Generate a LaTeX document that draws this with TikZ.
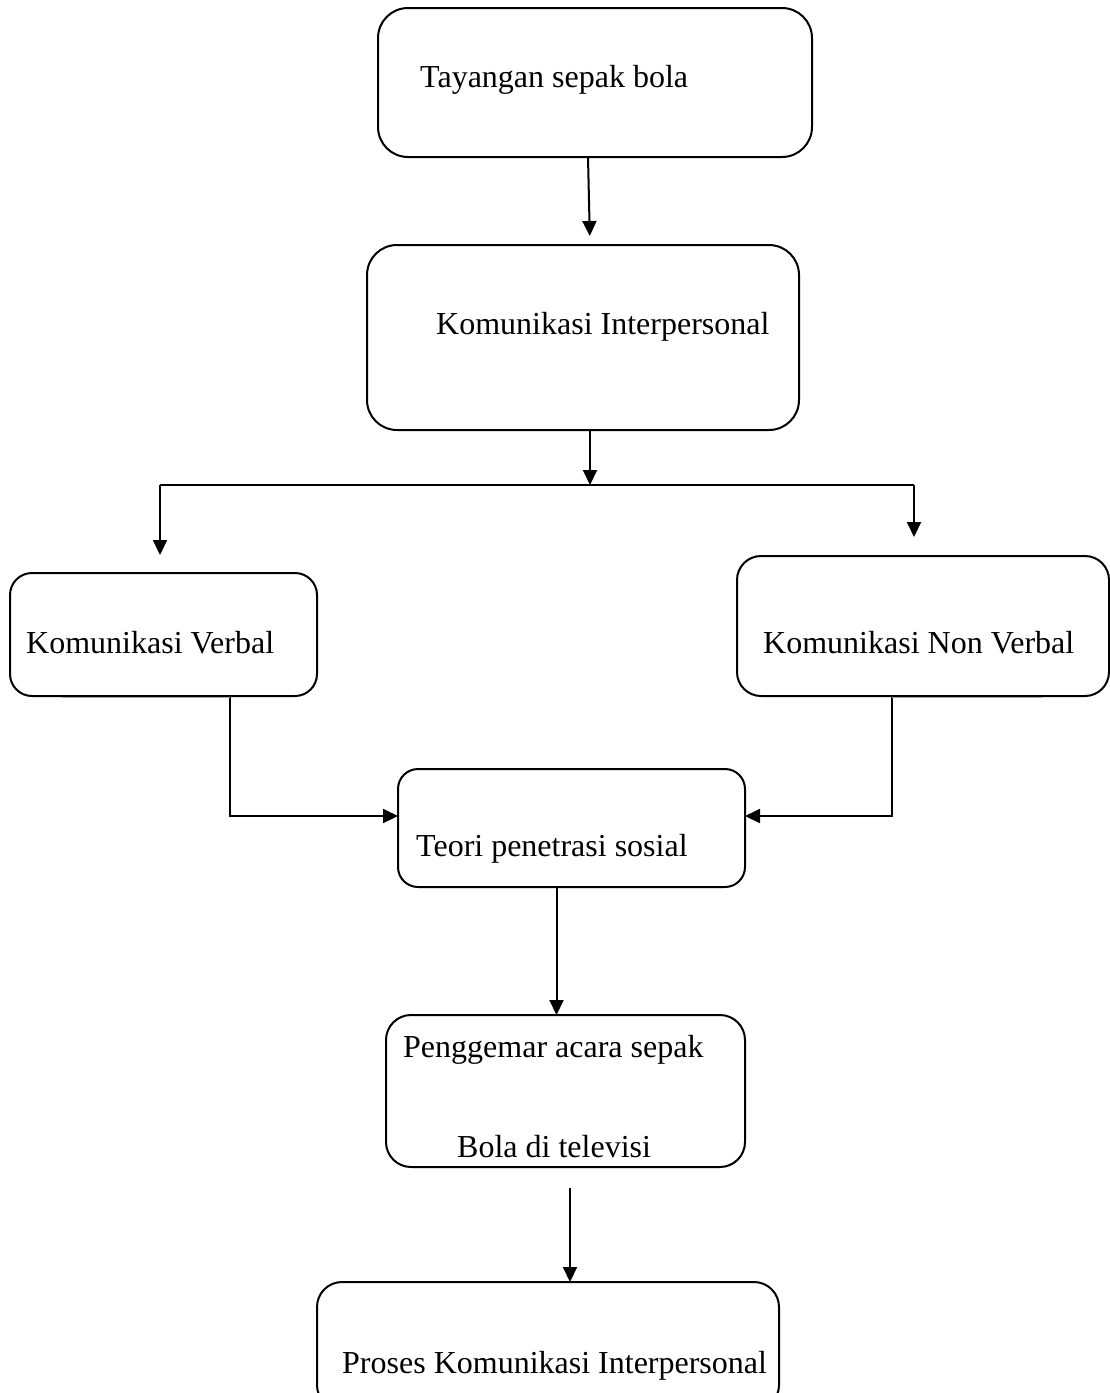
\documentclass[tikz,border=0pt]{standalone}
\usepackage{fontspec}
\setmainfont{Liberation Serif}
\usetikzlibrary{arrows.meta}
\begin{document}
\begin{tikzpicture}[x=1pt,y=-1pt,
  box/.style={draw, line width=2pt, inner sep=0pt, outer sep=0pt},
  txt/.style={anchor=base west, inner sep=0pt, font=\fontsize{32}{38}\selectfont},
  arr/.style={line width=2pt, -{Triangle[length=15pt,width=14pt]}},
  plain/.style={line width=2pt},
  faint/.style={line width=1.2pt, gray!70}]
\useasboundingbox (0,0) rectangle (1110,1393);
\clip (0,0) rectangle (1110,1393);
% boxes
\node[box, rounded corners=30pt, minimum width=434pt, minimum height=149pt] (tay) at (595,82.5) {};
\node[box, rounded corners=30pt, minimum width=432pt, minimum height=185pt] (ki) at (583,337.5) {};
\node[box, rounded corners=22pt, minimum width=307pt, minimum height=123pt] (kv) at (163.5,634.5) {};
\node[box, rounded corners=24pt, minimum width=372pt, minimum height=140pt] (knv) at (923,626) {};
\node[box, rounded corners=20pt, minimum width=347pt, minimum height=118pt] (teori) at (571.5,828) {};
\node[box, rounded corners=25pt, minimum width=359pt, minimum height=152pt] (peng) at (565.5,1091) {};
\node[box, rounded corners=25pt, minimum width=462pt, minimum height=128pt] (proses) at (548,1346) {};
% texts
\node[txt] (t1) at (420,87) {Tayangan sepak bola};
\node[txt] (t2) at (436,334) {Komunikasi Interpersonal};
\node[txt] (t3) at (26,653) {Komunikasi Verbal};
\node[txt] (t4) at (763,653) {Komunikasi Non Verbal};
\node[txt] (t5) at (416,856) {Teori penetrasi sosial};
\node[txt] (t6) at (403,1057) {Penggemar acara sepak};
\node[txt] (t7) at (457,1157) {Bola di televisi};
\node[txt] (t8) at (342,1373) {Proses Komunikasi Interpersonal};
% junction coordinates
\coordinate (jl) at (160,485);
\coordinate (jm) at (590,485);
\coordinate (jr) at (914,485);
% connectors
\draw[arr, shorten >=9pt] ([xshift=-7pt]tay.south) -- ([xshift=7pt]ki.north);
\draw[arr] ([xshift=7pt]ki.south) -- (jm);
\draw[plain] (jl) -- (jr);
\draw[arr, shorten >=18pt] (jl) -- (jl |- kv.north);
\draw[arr, shorten >=19pt] (jr) -- (jr |- knv.north);
\draw[arr] ([xshift=66.5pt]kv.south) |- ([yshift=12pt]teori.west);
\draw[arr] ([xshift=-31pt]knv.south) |- ([yshift=12pt]teori.east);
\draw[faint] ([xshift=-101.5pt,yshift=-1.5pt]kv.south) -- ([xshift=66.5pt,yshift=-1.5pt]kv.south);
\draw[faint] ([xshift=-31pt,yshift=-1.5pt]knv.south) -- ([xshift=120pt,yshift=-1.5pt]knv.south);
\draw[arr] ([xshift=-15pt]teori.south) -- ([xshift=-15pt]teori.south |- peng.north);
\draw[arr, shorten <=21pt] ([xshift=4.5pt]peng.south) -- ([xshift=4.5pt]peng.south |- proses.north);
\end{tikzpicture}
\end{document}
